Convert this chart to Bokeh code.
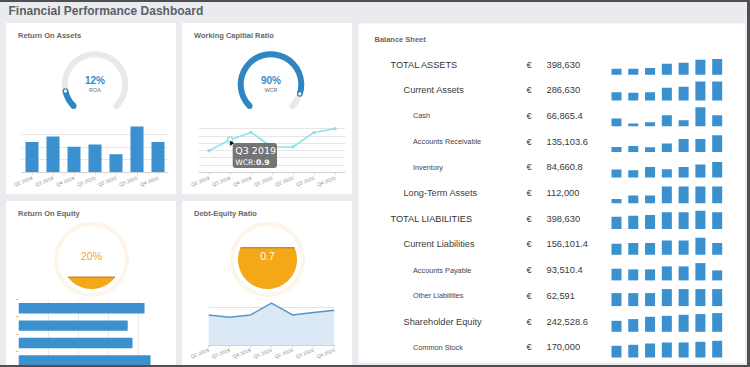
import numpy as np
from bokeh.plotting import figure
from bokeh.layouts import column, row
from bokeh.models import Spacer, Range1d, FactorRange, FixedTicker, Grid, BoxAnnotation
from bokeh.core.properties import value
from bokeh.embed import file_html
from bokeh.resources import INLINE

# ---------------- data ----------------
quarters = ["Q2 2019", "Q3 2019", "Q4 2019", "Q1 2020", "Q2 2020", "Q3 2020", "Q4 2020"]

roa_gauge_pct = 12
roa_values = [12.0, 14.1, 10.1, 11.0, 7.2, 18.0, 12.0]

wcr_gauge_pct = 90
wcr_values = [0.6, 0.9, 1.1, 0.7, 0.7, 1.1, 1.2]
tooltip_quarter = "Q3 2019"

roe_gauge_pct = 20
roe_values = [21.0, 18.2, 19.0, 22.0]

der_gauge = 0.7
der_values = [0.65, 0.6, 0.65, 0.9, 0.65, 0.7, 0.75]

bs_labels = ["TOTAL ASSETS", "Current Assets", "Cash", "Accounts Receivable", "Inventory",
             "Long-Term Assets", "TOTAL LIABILITIES", "Current Liabilities", "Accounts Payable",
             "Other Liabilities", "Shareholder Equity", "Common Stock"]
bs_levels = [0, 1, 2, 2, 2, 1, 0, 1, 2, 2, 1, 2]
bs_amounts = [398630, 286630, 66865.4, 135103.6, 84660.8, 112000, 398630, 156101.4,
              93510.4, 62591, 242528.6, 170000]

spark_total_assets = [60, 60, 67, 110, 120, 150, 157]
spark_current_assets = [83, 77, 83, 127, 137, 190, 190]
spark_cash = [77, 27, 40, 110, 60, 190, 110]
spark_accounts_receivable = [50, 60, 47, 83, 130, 130, 167]
spark_inventory = [80, 73, 107, 83, 107, 130, 157]
spark_long_term_assets = [43, 77, 77, 167, 167, 167, 167]
spark_total_liabilities = [123, 133, 140, 167, 167, 183, 167]
spark_current_liabilities = [110, 117, 117, 143, 143, 170, 117]
spark_accounts_payable = [117, 110, 110, 140, 140, 173, 100]
spark_other_liabilities = [130, 130, 130, 170, 170, 170, 170]
spark_shareholder_equity = [110, 127, 150, 160, 170, 177, 187]
spark_common_stock = [117, 127, 140, 150, 150, 157, 167]
spark_rows = [spark_total_assets, spark_current_assets, spark_cash, spark_accounts_receivable,
              spark_inventory, spark_long_term_assets, spark_total_liabilities,
              spark_current_liabilities, spark_accounts_payable, spark_other_liabilities,
              spark_shareholder_equity, spark_common_stock]

# ---------------- styles ----------------
FONT = "Liberation Sans"
BG = "#e9ebee"
PANEL = "#ffffff"
DARK = "#4d4f52"
BAR = "#3b90d0"
GBLUE = "#2f86c3"
TRACK = "#e9e9e9"
ORANGE = "#f5a815"
CYAN = "#8ae3ea"
PTITLE = "#676767"


def blank(w, h, xr, yr, bg=PANEL):
    p = figure(width=w, height=h, x_range=xr, y_range=yr, output_backend="svg",
               toolbar_location=None, x_axis_location=None, y_axis_location=None,
               min_border=0, background_fill_color=bg, border_fill_color=bg,
               outline_line_color=None, frame_align=False)
    p.grid.visible = False
    return p


def chart(w, h, xr, yr, mb, **kw):
    p = figure(width=w, height=h, x_range=xr, y_range=yr, output_backend="svg",
               toolbar_location=None, min_border=0,
               min_border_left=mb[0], min_border_right=mb[1],
               min_border_top=mb[2], min_border_bottom=mb[3],
               background_fill_color=PANEL, border_fill_color=PANEL,
               outline_line_color=None, frame_align=False, **kw)
    return p


def style_xaxis(p, ticks=None, labels=None, standoff=3):
    ax = p.xaxis[0]
    if ticks is not None:
        ax.ticker = FixedTicker(ticks=ticks)
        ax.major_label_overrides = {float(t): l for t, l in zip(ticks, labels)}
    ax.major_label_orientation = 0.38
    ax.major_label_text_font = FONT
    ax.major_label_text_font_size = "5px"
    ax.major_label_text_color = "#8a8a8a"
    ax.axis_line_color = "#d3d3d3"
    ax.major_tick_line_color = "#d3d3d3"
    ax.major_tick_out = 2
    ax.major_tick_in = 0
    ax.minor_tick_line_color = None
    ax.major_label_standoff = standoff


def title_text(p, x, y, t):
    p.text(x=[x], y=[y], text=[t], text_font=value(FONT), text_font_size="7.5px",
           text_font_style="bold", text_color=PTITLE, text_baseline="middle", text_align="left")


def arc_gauge(title, pct, label):
    p = blank(170, 93, Range1d(0, 170), Range1d(0, 93))
    title_text(p, 11.5, 81, title)
    cx, cy, ro, ri = 88.5, 32.0, 33.3, 27.3
    rm = (ro + ri) / 2
    start = np.deg2rad(225.0)
    sweep = np.deg2rad(270.0)
    end_track = start - sweep
    end_val = start - sweep * pct / 100.0
    p.annular_wedge(x=[cx], y=[cy], inner_radius=ri, outer_radius=ro,
                    start_angle=end_track, end_angle=start, direction="anticlock",
                    fill_color=TRACK, line_color=None)
    p.circle(x=[cx + rm * np.cos(end_track)], y=[cy + rm * np.sin(end_track)],
             radius=(ro - ri) / 2, fill_color=TRACK, line_color=None)
    p.annular_wedge(x=[cx], y=[cy], inner_radius=ri, outer_radius=ro,
                    start_angle=end_val, end_angle=start, direction="anticlock",
                    fill_color=GBLUE, line_color=None)
    p.circle(x=[cx + rm * np.cos(start)], y=[cy + rm * np.sin(start)],
             radius=(ro - ri) / 2, fill_color=GBLUE, line_color=None)
    p.circle(x=[cx + rm * np.cos(end_val)], y=[cy + rm * np.sin(end_val)],
             radius=2.2, fill_color="white", line_color=GBLUE, line_width=1.3)
    p.text(x=[cx], y=[cy + 4], text=[f"{pct}%"], text_font=value(FONT), text_font_size="10px",
           text_font_style="bold", text_color="#3a8cc4", text_align="center", text_baseline="middle")
    p.text(x=[cx], y=[cy - 5], text=[label], text_font=value(FONT), text_font_size="5.5px",
           text_color="#6d6d6d", text_align="center", text_baseline="middle")
    return p


def liquid_gauge(title, frac, label, label_color):
    p = blank(170, 96, Range1d(0, 170), Range1d(0, 96))
    title_text(p, 11.5, 84, title)
    cx, cy, r = 85.0, 38.0, 29.5
    p.annulus(x=[cx], y=[cy], inner_radius=33.5, outer_radius=37.5,
              fill_color="#fdf5e9", line_color=None)
    yf = cy - r + 2 * r * frac
    a = np.arcsin((yf - cy) / r)
    t = np.linspace(np.pi - a, 2 * np.pi + a, 90)
    xs = cx + r * np.cos(t)
    ys = cy + r * np.sin(t)
    p.patch(xs, ys, fill_color=ORANGE, line_color=None)
    p.line([xs[0], xs[-1]], [yf, yf], line_color="#c98a33", line_width=1.4)
    p.text(x=[cx], y=[cy + 4], text=[label], text_font=value(FONT), text_font_size="10.5px",
           text_color=label_color, text_align="center", text_baseline="middle")
    return p


# ---------- Return On Assets ----------
roa_g = arc_gauge("Return On Assets", roa_gauge_pct, "ROA")
roa_c = chart(170, 78, FactorRange(*quarters), Range1d(0, 20), (15, 8, 5, 22), y_axis_location=None)
roa_c.xgrid.visible = False
roa_c.add_layout(Grid(dimension=1, ticker=FixedTicker(ticks=[5, 10, 15, 20]), grid_line_color="#e6e6e6"))
roa_c.vbar(x=quarters, top=roa_values, width=0.62, fill_color=BAR, line_color=None)
style_xaxis(roa_c, standoff=3)

# ---------- Working Capital Ratio ----------
wcr_g = arc_gauge("Working Capitial Ratio", wcr_gauge_pct, "WCR")
wcr_c = chart(170, 78, Range1d(0, 7), Range1d(0, 1.4), (16, 7, 5, 22), y_axis_location=None)
wcr_c.xgrid.visible = False
wcr_c.add_layout(Grid(dimension=1, ticker=FixedTicker(ticks=[0.2, 0.4, 0.6, 0.8, 1.0, 1.2, 1.4]),
                      grid_line_color="#e6e6e6"))
wx = [i + 0.5 for i in range(len(quarters))]
wcr_c.line(wx, wcr_values, line_color=CYAN, line_width=1.6)
wcr_c.scatter(wx, wcr_values, size=3.5, fill_color=CYAN, line_color=None)
qi = quarters.index(tooltip_quarter)
px, py = wx[qi], wcr_values[qi]
wcr_c.scatter([px], [py], size=5.5, fill_color="#e4f8fa", line_color=CYAN, line_width=1.2)
dxp, dyp = 7 / 147.0, 1.4 / 51.0
wcr_c.add_layout(BoxAnnotation(left=px + 2.7 * dxp, right=px + 47 * dxp,
                               top=py - 3.3 * dyp, bottom=py - 28.3 * dyp,
                               fill_color="#6b6b6b", fill_alpha=0.93, line_color=None,
                               border_radius=3))
wcr_c.text(x=[px], y=[py], text=[tooltip_quarter], x_offset=5.3, y_offset=10.8,
           text_font=value("DejaVu Sans"), text_font_size="9.5px", text_color="white",
           text_baseline="middle", text_align="left", level="overlay")
wcr_c.text(x=[px], y=[py], text=["WCR:"], x_offset=5.3, y_offset=22.3,
           text_font=value("DejaVu Sans"), text_font_size="7.6px", text_color="white",
           text_baseline="middle", text_align="left", level="overlay")
wcr_c.text(x=[px], y=[py], text=[f"{py:.1f}"], x_offset=26.0, y_offset=22.3,
           text_font=value("DejaVu Sans"), text_font_size="7.6px", text_font_style="bold",
           text_color="white", text_baseline="middle", text_align="left", level="overlay")
# mouse cursor arrow next to the hovered point
wcr_c.scatter([px + 1.5 * dxp], [py - 3.5 * dyp], size=6, marker="triangle", angle=0.5,
              fill_color="black", line_color="white", line_width=0.6, level="overlay")
style_xaxis(wcr_c, wx, quarters, standoff=3)

# ---------- Return On Equity ----------
roe_g = liquid_gauge("Return On Equity", roe_gauge_pct / 100.0, f"{roe_gauge_pct}%", "#f2a62a")
band = 66 / 17.4
roe_c = chart(170, 68, Range1d(0, 25), Range1d(band, 0), (12, 8, 2, 0), x_axis_location=None)
roe_c.ygrid.visible = False
roe_c.add_layout(Grid(dimension=0, ticker=FixedTicker(ticks=[5, 10, 15, 20, 25]), grid_line_color="#ebebeb"))
ry = [i + 0.5 for i in range(len(roe_values))]
roe_c.hbar(y=ry, right=roe_values, left=0, height=0.6, fill_color=BAR, line_color=None)
yax = roe_c.yaxis[0]
yax.ticker = FixedTicker(ticks=list(range(len(roe_values))))
yax.major_label_overrides = {float(i): "" for i in range(len(roe_values))}
yax.axis_line_color = None
yax.major_tick_line_color = "#f3b878"
yax.major_tick_out = 3
yax.major_tick_in = 0
yax.minor_tick_line_color = None
yax.major_label_standoff = 0

# ---------- Debt-Equity Ratio ----------
der_g = liquid_gauge("Debt-Equity Ratio", der_gauge, f"{der_gauge}", "white")
der_c = chart(170, 68, Range1d(0, 6), Range1d(0, 1.0), (26, 18, 1, 16), y_axis_location=None)
der_c.xgrid.visible = False
der_c.add_layout(Grid(dimension=1, ticker=FixedTicker(ticks=[0.2, 0.4, 0.6, 0.8, 1.0]), grid_line_color="#e3e3e3"))
dx = list(range(len(quarters)))
der_c.varea(x=dx, y1=0, y2=der_values, fill_color="#dbe8f5", fill_alpha=1.0)
der_c.line(dx, der_values, line_color="#5596c8", line_width=1.5)
style_xaxis(der_c, dx, quarters, standoff=2)

# ---------- Balance sheet ----------
bs = blank(387, 340, Range1d(0, 387), Range1d(340, 0))
bs.text(x=[16], y=[16], text=["Balance Sheet"], text_font=value(FONT), text_font_size="7.5px",
        text_font_style="bold", text_color=PTITLE, text_baseline="middle", text_align="left")
level_x = {0: 32, 1: 45, 2: 54.5}
level_size = {0: "9.2px", 1: "9.2px", 2: "7.3px"}
level_color = {0: "#333333", 1: "#3c3c3c", 2: "#444444"}
row_y = [41 + 25.7 * i for i in range(len(bs_labels))]


def fmt(v):
    s = f"{v:,.1f}"
    if s.endswith(".0"):
        s = s[:-2]
    return s


for lvl in (0, 1, 2):
    idx = [i for i, l in enumerate(bs_levels) if l == lvl]
    bs.text(x=[level_x[lvl]] * len(idx), y=[row_y[i] for i in idx], text=[bs_labels[i] for i in idx],
            text_font=value(FONT), text_font_size=level_size[lvl], text_color=level_color[lvl],
            text_baseline="middle", text_align="left")
bs.text(x=[168] * len(bs_labels), y=row_y, text=["€"] * len(bs_labels), text_font=value(FONT),
        text_font_size="9.3px", text_color="#3a3a3a", text_baseline="middle", text_align="left")
bs.text(x=[188] * len(bs_labels), y=row_y, text=[fmt(v) for v in bs_amounts], text_font=value(FONT),
        text_font_size="9.3px", text_color="#3a3a3a", text_baseline="middle", text_align="left")
SPARK_SCALE = 0.1
for i, vals in enumerate(spark_rows):
    base = row_y[i] + 10.3
    xs = [258 + 16.78 * j for j in range(len(vals))]
    bs.vbar(x=xs, width=10, bottom=base, top=[base - v * SPARK_SCALE for v in vals],
            fill_color=BAR, line_color=None)

# ---------- title ----------
title_fig = blank(747, 21, Range1d(0, 747), Range1d(21, 0), bg=BG)
title_fig.text(x=[8], y=[8], text=["Financial Performance Dashboard"], text_font=value(FONT),
               text_font_size="12px", text_font_style="bold", text_color="#5b6168",
               text_baseline="middle", text_align="left")

# ---------- layout ----------
bgs = {"background-color": BG}
whites = {"background-color": PANEL}
darks = {"background-color": DARK}
roa_panel = column(roa_g, roa_c, spacing=0, styles=whites)
wcr_panel = column(wcr_g, wcr_c, spacing=0, styles=whites)
roe_panel = column(roe_g, roe_c, spacing=0, styles=whites)
der_panel = column(der_g, der_c, spacing=0, styles=whites)
left_col = column(row(roa_panel, Spacer(width=6, height=171), wcr_panel),
                  Spacer(width=346, height=7),
                  row(roe_panel, Spacer(width=6, height=164), der_panel))
body = row(Spacer(width=6, height=342), left_col, Spacer(width=6, height=342),
           column(bs, Spacer(width=387, height=2)), Spacer(width=2, height=342), styles=bgs)
main = column(Spacer(width=747, height=2, styles=darks), title_fig, body,
              Spacer(width=747, height=2, styles=darks), styles=bgs)
root = row(main, Spacer(width=3, height=367, styles=darks), styles=bgs)

open("out.html", "w").write(file_html(root, INLINE))
